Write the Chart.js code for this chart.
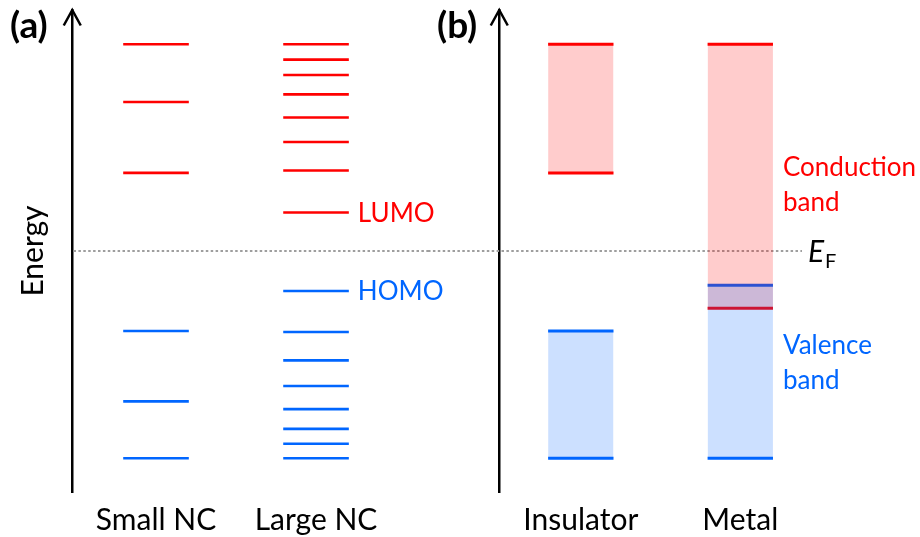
<!DOCTYPE html>
<html>
<head>
<meta charset="utf-8">
<script src="https://cdn.jsdelivr.net/npm/chart.js@4.4.1/dist/chart.umd.min.js"></script>
<style>
  html, body { margin: 0; padding: 0; background: #fff; }
  #figure { position: relative; width: 920px; height: 537px; overflow: hidden; background: #fff; }
  #figure canvas { position: absolute; top: 0; }
  #panelA { left: 0; }
  #panelB { left: 428px; }
</style>
</head>
<body>
<div id="figure">
  <canvas id="panelA" width="445" height="537"></canvas>
  <canvas id="panelB" width="492" height="537"></canvas>
</div>
<script>
// Energies in arbitrary units: 0 = foot of the axis, 100 = arrow tip.

// (a) discrete levels of nanocrystals
const nanocrystals = ['Small NC', 'Large NC'];
const smallNcUnoccupied = [92.9, 80.9, 66.2];
const smallNcOccupied = [33.4, 18.8, 7.0];
const largeNcUnoccupied = [92.9, 89.7, 86.5, 82.5, 77.7, 72.6, 66.7, 58.0];
const largeNcOccupied = [41.7, 33.2, 27.3, 22.0, 17.2, 13.1, 10.0, 7.0];

// (b) continuous bands of bulk solids, [bottom, top]
const solids = ['Insulator', 'Metal'];
const conductionBand = [[66.2, 92.9], [38.1, 92.9]];
const valenceBand = [[7.0, 33.4], [7.0, 42.9]];

// Fermi level shared by both panels
const fermiLevel = 50.0;

const RED = '#ff0000';
const BLUE = '#0066ff';
const RED_FILL = 'rgba(255, 0, 0, 0.2)';
const BLUE_FILL = 'rgba(0, 102, 255, 0.2)';
const HALF = 0.205;           // half length of a level line, in column units
const FONT = 'Lato, "Open Sans", sans-serif';

// One line dataset holding several short horizontal segments of a column.
function levels(col, energies, color, width, order) {
  const data = [];
  energies.forEach((e, k) => {
    if (k) data.push({ x: col, y: null });
    data.push({ x: col - HALF, y: e }, { x: col + HALF, y: e });
  });
  return {
    data, borderColor: color, borderWidth: width, pointRadius: 0,
    fill: false, spanGaps: false, order
  };
}

// Translucent band filled between its two edges.
function band(col, [lo, hi], color, order) {
  return {
    data: [{ x: col - HALF, y: hi }, { x: col + HALF, y: hi }],
    borderColor: 'rgba(0,0,0,0)', borderWidth: 1, pointRadius: 0,
    backgroundColor: color, fill: { value: lo }, order
  };
}

// Axis arrowhead, Fermi level line, panel letter and text annotations.
const figureDecor = {
  id: 'figureDecor',
  beforeDatasetsDraw(chart, args, o) {
    const { ctx, scales: { y } } = chart;
    const yF = y.getPixelForValue(fermiLevel);
    ctx.save();
    ctx.strokeStyle = '#9e9e9e';
    ctx.lineWidth = 2.2;
    ctx.setLineDash([2.5, 2.4]);
    ctx.lineDashOffset = o.dashOffset || 0;
    ctx.beginPath();
    ctx.moveTo(o.fermiFrom === 'axis' ? chart.chartArea.left + 1.5 : o.fermiFrom, yF);
    ctx.lineTo(o.fermiTo, yF);
    ctx.stroke();
    ctx.restore();
  },
  afterDraw(chart, args, o) {
    const { ctx, chartArea, scales: { x, y } } = chart;
    ctx.save();
    // arrowhead on the energy axis
    const ax = y._borderValue !== undefined ? y._borderValue : chartArea.left;
    const top = chartArea.top;
    ctx.strokeStyle = '#000';
    ctx.lineWidth = 2.5;
    ctx.lineJoin = 'miter';
    ctx.beginPath();
    ctx.moveTo(ax - 8.5, top + 15.5);
    ctx.lineTo(ax, top);
    ctx.lineTo(ax + 8.5, top + 15.5);
    ctx.stroke();

    // panel letter
    ctx.fillStyle = '#000';
    ctx.font = 'bold 37px ' + FONT;
    ctx.textBaseline = 'alphabetic';
    ctx.textAlign = 'left';
    ctx.fillText(o.letter, o.letterX, 38);

    // labels beside a level
    ctx.font = '26px ' + FONT;
    (o.levelLabels || []).forEach(l => {
      ctx.fillStyle = l.color;
      ctx.fillText(l.text, x.getPixelForValue(l.col + HALF) + 9, y.getPixelForValue(l.energy) + 9.3);
    });
    // multi-line band captions
    (o.bandLabels || []).forEach(l => {
      ctx.fillStyle = l.color;
      l.lines.forEach((t, i) => {
        ctx.fillText(t, x.getPixelForValue(l.col + HALF) + 10, l.baseline + i * 35);
      });
    });
    // E_F label
    if (o.fermiLabel) {
      const yF = y.getPixelForValue(fermiLevel);
      ctx.fillStyle = '#000';
      ctx.font = 'italic 30px ' + FONT;
      ctx.fillText('E', o.fermiTo + 6, yF + 10.5);
      ctx.font = '20px ' + FONT;
      ctx.fillText('F', o.fermiTo + 23, yF + 17);
    }
    ctx.restore();
  }
};

function panel(canvasId, cfg) {
  return new Chart(document.getElementById(canvasId), {
    type: 'line',
    data: { datasets: cfg.datasets },
    plugins: [figureDecor],
    options: {
      responsive: false,
      animation: false,
      devicePixelRatio: 1,
      events: [],
      layout: { padding: { top: 10, left: 0, right: 0, bottom: 0 } },
      plugins: {
        legend: { display: false },
        tooltip: { enabled: false },
        figureDecor: cfg.decor
      },
      scales: {
        x: {
          type: 'linear',
          min: cfg.xMin,
          max: cfg.xMax,
          afterBuildTicks: s => { s.ticks = cfg.labels.map((_, i) => ({ value: i })); },
          afterFit: s => { s.height = 45; },
          grid: { display: false, drawTicks: false },
          border: { display: false },
          ticks: {
            callback: v => cfg.labels[v],
            font: { family: FONT, size: 30 },
            color: '#000',
            padding: 10,
            maxRotation: 0,
            autoSkip: false
          }
        },
        y: {
          type: 'linear',
          min: 0,
          max: 100,
          afterFit: s => { s.width = cfg.axisWidth; },
          grid: { display: false, drawTicks: false },
          border: { display: true, color: '#000', width: 2.5 },
          ticks: { display: false },
          title: {
            display: !!cfg.yTitle,
            text: cfg.yTitle || '',
            font: { family: FONT, size: 30 },
            color: '#000',
            padding: { top: 15, bottom: 0 }
          }
        }
      }
    }
  });
}

// (a) nanocrystals
panel('panelA', {
  labels: nanocrystals,
  xMin: -0.525,
  xMax: 1.806,
  axisWidth: 72,
  yTitle: 'Energy',
  datasets: [
    levels(0, smallNcOccupied, BLUE, 2.6, 3),
    levels(1, largeNcOccupied, BLUE, 2.6, 3),
    levels(0, smallNcUnoccupied, RED, 2.6, 1),
    levels(1, largeNcUnoccupied, RED, 2.6, 1)
  ],
  decor: {
    letter: '(a)', letterX: 10,
    fermiFrom: 'axis', fermiTo: 428,
    levelLabels: [
      { text: 'LUMO', col: 1, energy: largeNcUnoccupied[largeNcUnoccupied.length - 1], color: RED },
      { text: 'HOMO', col: 1, energy: largeNcOccupied[0], color: BLUE }
    ]
  }
});

// (b) insulator and metal
panel('panelB', {
  labels: solids,
  xMin: -0.513,
  xMax: 2.127,
  axisWidth: 71,
  datasets: [
    levels(0, valenceBand[0], BLUE, 3, 3),
    levels(1, valenceBand[1], BLUE, 3, 3),
    band(0, conductionBand[0], RED_FILL, 2),
    band(1, conductionBand[1], RED_FILL, 2),
    levels(0, conductionBand[0], RED, 3, 1),
    levels(1, conductionBand[1], RED, 3, 1),
    band(0, valenceBand[0], BLUE_FILL, 0),
    band(1, valenceBand[1], BLUE_FILL, 0)
  ],
  decor: {
    letter: '(b)', letterX: 9,
    fermiFrom: 0, fermiTo: 374,
    fermiLabel: true,
    bandLabels: [
      { lines: ['Conduction', 'band'], col: 1, baseline: 176, color: RED },
      { lines: ['Valence', 'band'], col: 1, baseline: 353.5, color: BLUE }
    ]
  }
});
</script>
</body>
</html>
